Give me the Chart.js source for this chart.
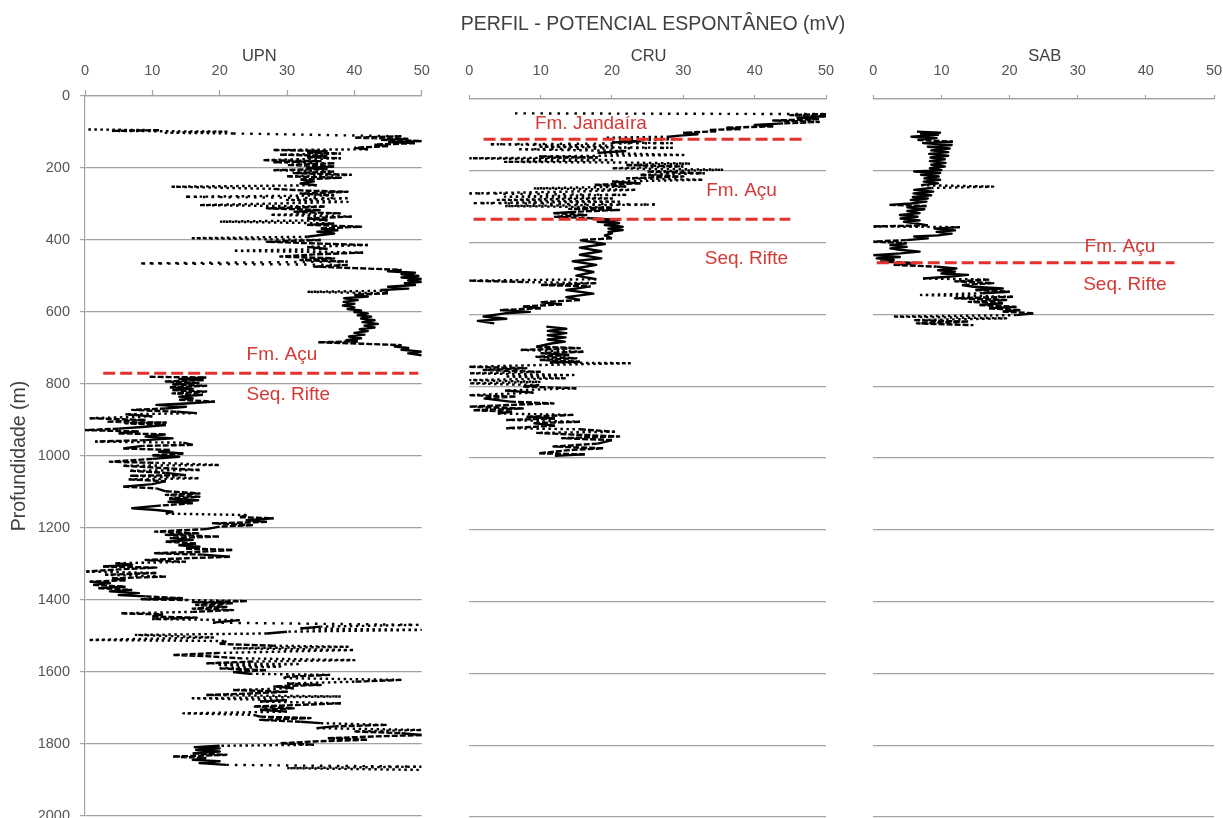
<!DOCTYPE html>
<html><head><meta charset="utf-8">
<script src="https://cdn.jsdelivr.net/npm/chart.js@4.4.1/dist/chart.umd.min.js"></script>
<style>
html,body{margin:0;padding:0;background:#fff;}
#wrap{position:relative;width:1223px;height:818px;overflow:hidden;background:#fff;}
canvas{position:absolute;left:0;top:0;}
</style></head><body>
<div id="wrap">
<canvas id="cUPN" width="1223" height="818"></canvas>
<canvas id="cCRU" width="1223" height="818"></canvas>
<canvas id="cSAB" width="1223" height="818"></canvas>
</div>
<script>
// ---------- DATA (depth m, SP mV) ----------
const mainTitle = 'PERFIL - POTENCIAL ESPONTÂNEO (mV)';
const wellNames = ['UPN', 'CRU', 'SAB'];
const xTicks = [0, 10, 20, 30, 40, 50];
const depthTicks = [0, 200, 400, 600, 800, 1000, 1200, 1400, 1600, 1800, 2000];

const upnLog = [[93,0.5],[95,11],[97,4],[99,21],[102,12],[104,22],[112,47],[116,40],[119,48],[122,44],[125,50],[128,45],[131,49],[135,43],[139,45],[144,40],[148,42],[150,28],[153,36],[157,33],[160,38],[163,29],[166,36],[170,33],[173,38],[178,26.5],[181,35],[184,28],[187,37],[192,30],[196,37],[200,33],[203,36],[206,28],[210,37],[214,31],[219,39.6],[223,30],[227,38],[232,32],[237,34],[243,32],[248,34.4],[252,13],[258,28],[263,33],[266,39],[271,32],[276,37],[280,15],[284,39],[289,30],[294,39],[298,30],[303,17],[307,35.6],[312,27],[317,35],[322,31],[326,38],[330,27.5],[335,39.6],[340,33],[345,36],[349,20],[354,37],[358,33],[363,41],[368,35],[373,37.5],[377,34.5],[382,37],[386,35],[391,33],[395,16],[400,35],[405,27],[410,35],[414,42],[419,33],[425,36],[430,22],[435,41.3],[440,34],[446,29],[451,37],[456,32],[460,39],[465,8],[469,39],[474,34],[478,40],[483,47],[487,45],[491,49],[495,47],[500,49.5],[504,47],[508,50],[512,48],[516,50],[520,47.5],[525,49],[530,45],[535,48],[539,44],[541,45],[544,33],[548,45],[552,40],[557,42],[562,38.5],[567,40.5],[572,38.4],[577,40],[582,38.3],[587,40],[592,39],[596,41],[600,40],[604,42],[609,40.5],[613,42.5],[618,41],[623,43],[628,41.2],[633,43.5],[638,41.5],[643,43],[648,40.8],[653,42],[658,40],[663,41.5],[668,39.2],[673,41],[678,38.8],[682,40.5],[684,34.6],[688,41],[692,47],[696,46],[700,48],[705,47],[710,50],[715,48],[720,50],[null,null],
[780,9.6],[782,18],[786,14],[789,17.6],[793,12],[797,17],[801,13],[805,18],[809,12.6],[813,16],[817,13],[821,18],[826,13],[830,17.5],[835,14],[840,16],[844,14],[849,19.3],[854,15],[858,10.6],[863,15],[868,12],[872,7],[877,13.6],[881,16.6],[884,6],[890,10],[895,0.7],[900,9],[905,3.2],[907,12],[909,6],[914,12],[920,8],[924,5],[928,0],[932,8],[937,5],[940,12],[946,9],[951,13],[956,9],[960,1.5],[963,14.6],[969,16],[972,8.5],[979,5.7],[983,12.6],[988,11],[993,14.6],[998,10],[1002,14],[1008,10],[1016,3.7],[1019,10.6],[1025,20],[1027,5.7],[1034,12],[1039,17],[1041,6.7],[1047,12],[1053,15],[1055,6.7],[1062,17],[1065,6.5],[1070,12],[1078,10],[1085,5.7],[1090,10.6],[1098,12],[1104,17],[1108,12],[1113,17],[1118,12.5],[1123,16.8],[1127,12.4],[1131,16],[1138,11],[1145,7],[1150,10.6],[1155,13],[1160,12],[1164,24],[1170,23],[1173,28],[1178,24],[1183,27],[1187,19],[1192,25],[1196,20],[1203,18],[1210,10.4],[1215,17],[1219,12],[1224,20],[1228,12.6],[1233,16],[1238,12],[1243,16.5],[1248,14],[1252,17],[1257,15],[1261,22],[1266,17],[1270,10.4],[1274,17.5],[1280,21.5],[1284,15],[1289,9],[1294,15],[1298,4.5],[1302,7],[1307,2.7],[1310,10.6],[1315,5],[1321,0.2],[1325,10.6],[1330,3],[1335,12],[1340,4],[1345,6],[1349,0.7],[1353,3.7],[1358,1.2],[1363,6],[1367,2],[1372,7],[1376,3.7],[1381,8],[1386,5],[1390,9],[1395,14.4],[1398,8.4],[1400,15],[1403,24],[1406,16],[1409,22],[1414,16.5],[1419,21],[1424,16],[1428,22],[1433,16],[1437,5.4],[1440,11.6],[1446,10],[1449,16.6],[1453,10],[1456,23],[1463,19],[1469,49.5],[1474,35],[1479,32],[1483,50],[1488,30],[1493,27],[1497,7.4],[1504,19],[1511,0.5],[1514,21],[1522,20],[1527,28],[1530,39],[1534,22],[1539,40],[1543,30],[1547,20],[1553,13],[1556,18],[1562,23],[1567,40],[1571,25],[1576,18],[1578,32],[1581,20],[1585,29],[1590,20],[1595,27],[1600,22],[1605,24.5],[1608,36.4],[1613,30],[1617,29.5],[1622,47],[1627,40],[1632,30],[1636,35],[1640,28],[1645,31],[1650,22],[1655,30],[1660,24],[1664,18],[1668,38],[1673,16],[1678,30],[1682,26],[1687,38],[1692,31],[1696,25],[1701,31],[1705,26],[1710,30],[1715,14.6],[1719,25],[1724,26],[1728,33.5],[1733,26],[1738,32],[1742,35],[1747,44.8],[1751,37],[1756,34.4],[1761,50],[1765,40],[1770,47],[1775,50],[1779,43],[1784,36],[1788,42],[1793,34],[1798,29],[1802,34],[1805,20],[1809,16.3],[1812,20],[1817,16.5],[1821,20],[1826,16],[1830,21],[1835,13],[1839,18],[1844,16],[1848,20],[1853,17],[1858,21],[1863,50],[1867,30],[1872,50]];

const cruLog = [[40,6.4],[42,50],[45,45],[48,50],[52,46],[56,49],[60,42.6],[64,49],[68,44],[72,40],[76,42.6],[80,36],[84,38],[86,33.7],[90,34.6],[94,30],[98,32],[102,29.5],[105,28],[108,19],[112,29.5],[115,21],[118,24],[121,20],[123,28.5],[126,3],[130,20],[133,10],[136,28.5],[140,7],[145,22],[150,18],[156,30],[160,9.8],[163,18],[165,0],[170,20],[175,5],[177,22],[180,31],[184,22],[188,30],[193,20],[197,35.6],[202,25],[207,33],[211,24],[216,30],[221,22],[225,32.8],[230,20],[235,24],[239,17.5],[244,22],[249,9],[253,23.4],[258,14],[263,0],[267,22],[272,5],[277,20],[281,4],[286,21],[290,0.6],[294,26],[298,5],[302,20],[306,14],[309,21],[314,15],[318,11.8],[323,16.4],[328,12],[332,17],[337,21],[342,18],[346,21],[351,19],[356,21.5],[361,19.5],[365,21.5],[370,19.5],[374,20],[380,19],[388,20],[393,15.5],[404,19],[414,15.5],[424,18.5],[434,15.5],[444,18.5],[452,14.5],[462,17.8],[472,14.8],[482,17.4],[492,15],[502,17.8],[506,0],[510,8],[513,17.8],[518,10],[522,17],[532,13.6],[542,17.4],[552,13.6],[560,15.5],[566,10],[572,13],[578,7.5],[583,10],[588,4.3],[593,8.5],[597,5],[606,2],[612,5.2],[618,1.2],[625,3.5],[null,null],
[634,10.8],[640,13.6],[646,11],[652,13.6],[658,11],[664,13.5],[670,11],[676,13.4],[681,11.5],[690,9.4],[694,15.5],[699,7.2],[704,16],[708,10],[713,14],[718,9.4],[722,15],[727,10],[732,15.5],[734,11.3],[736,22.5],[741,10],[746,0],[750,8],[755,2],[760,10],[764,0],[769,14.6],[773,5],[778,13.6],[783,0],[788,10],[792,0],[797,9.8],[801,7.6],[806,15],[812,5],[818,9],[825,0],[829,6.6],[834,2],[843,5.7],[848,11.8],[852,6],[857,0],[862,7.5],[867,0.5],[871,6],[876,4],[880,14.6],[885,8],[890,12],[894,5.2],[899,15.5],[903,9],[910,12],[917,5.2],[920,15.5],[927,20.4],[930,9.4],[936,16],[940,21],[945,13],[950,20],[960,18],[968,11.8],[973,18.8],[978,14],[987,9.7],[990,16.2],[994,12]];

const sabLog = [[91,6.4],[94,9.8],[97,7],[100,9.5],[105,5.6],[109,9.3],[114,6.5],[119,11.7],[123,7.3],[128,11.5],[133,8],[138,11.2],[143,8.5],[148,11],[153,8.2],[158,11],[163,8.4],[168,10.5],[173,8.3],[178,10.6],[183,8.5],[188,10.5],[193,8.3],[198,10],[202,6],[206,9.8],[211,7],[216,9.6],[221,7.5],[225,9.8],[230,7.4],[235,9.5],[240,7],[244,17.6],[248,8.5],[253,6],[258,8.8],[263,5.9],[268,8.5],[273,5.8],[277,8],[281,5.5],[286,7.8],[291,5.5],[295,2.4],[298,7.8],[302,5],[307,7.5],[312,5],[318,6.8],[323,3.9],[328,6.5],[333,4],[338,6.8],[342,4.5],[347,6.5],[352,8],[355,0],[357,12.7],[361,9],[366,12],[370,9.3],[375,11.5],[380,9.5],[383,6],[388,8],[393,4.9],[397,0],[402,4.9],[407,2.5],[412,4.9],[416,2.5],[420,3.9],[425,6.8],[430,4],[435,0],[440,3.9],[444,0.5],[448,3],[453,1],[457,6.4],[462,3],[467,9.3],[472,12.2],[477,9.5],[481,12],[486,10],[490,13.9],[495,11],[500,7.3],[503,17],[508,12],[513,17.6],[518,13],[523,14.7],[528,19],[532,15],[537,20],[541,16],[546,7],[551,20.5],[555,12],[560,19.5],[565,14],[569,19],[574,15.6],[579,21],[583,17],[588,21.6],[592,19],[597,23.5],[602,21],[606,2.9],[611,19.5],[616,6],[620,14],[625,6.4],[630,14.7]];

// formation tops: [depth, from mV, to mV]
const upnTops = [[770, 2.7, 49.5]];
const cruTops = [[112, 2, 47.3], [335, 0.6, 45]];
const sabTops = [[456, 0.5, 44.2]];

// formation labels: [text, mV, depth]
const upnNotes = [['Fm. Açu', 24, 733], ['Seq. Rifte', 24, 844]];
const cruNotes = [['Fm. Jandaíra', 9.2, 84], ['Fm. Açu', 33.2, 270], ['Seq. Rifte', 33.0, 460]];
const sabNotes = [['Fm. Açu', 31, 425], ['Seq. Rifte', 30.8, 533]];

// ---------- STYLE / LAYOUT ----------
const FONT = '"Liberation Sans", Arial, Helvetica, sans-serif';
const GRID = '#a3a3a3';
const RED_LINE = '#e2322c';
const RED_TEXT = '#d33a35';
const TXT = '#404040';
const TICK_TXT = '#555555';

const textPlugin = {
  id: 'panelTexts',
  afterDraw(chart, args, o) {
    const c = chart.ctx, xs = chart.scales.x, ys = chart.scales.y, ca = chart.chartArea;
    c.save();
    c.textBaseline = 'alphabetic';
    if (o.main) {
      c.font = '19.5px ' + FONT; c.fillStyle = TXT; c.textAlign = 'center';
      c.fillText(o.main, 653, 29.5);
    }
    c.font = '16.5px ' + FONT; c.fillStyle = TXT; c.textAlign = 'center';
    c.fillText(o.name, (ca.left + ca.right) / 2 + o.shift, 61);
    c.font = '19px ' + FONT; c.fillStyle = RED_TEXT; c.textAlign = 'left';
    o.notes.forEach(n => c.fillText(n[0], xs.getPixelForValue(n[1]), ys.getPixelForValue(n[2])));
    c.restore();
  }
};

function makePanel(id, name, log, tops, notes, area, showY, main, shift) {
  const datasets = [];
  tops.forEach(t => datasets.push({
    data: [{x: t[1], y: t[0]}, {x: t[2], y: t[0]}],
    borderColor: RED_LINE, borderWidth: 3, borderDash: [12, 5],
    pointRadius: 0, order: 0, clip: false
  }));
  datasets.push({
    data: log.map(p => ({x: p[1], y: p[0]})),
    borderColor: '#000', borderWidth: 2.4, pointRadius: 0, spanGaps: false, order: 1,
    borderJoinStyle: 'round',
    segment: {
      borderDash: s => {
        const dx = Math.abs(s.p1.x - s.p0.x);
        return dx > 150 ? [2.5, 6] : (dx > 60 ? [2.5, 3.5] : (dx > 30 ? [6, 2] : undefined));
      }
    }
  });
  new Chart(document.getElementById(id), {
    type: 'line',
    data: { datasets },
    plugins: [textPlugin],
    options: {
      responsive: false, animation: false, devicePixelRatio: 1,
      events: [],
      layout: { padding: { left: showY ? 0 : area.left, top: 0, right: 1223 - area.right, bottom: 818 - area.bottom } },
      plugins: {
        legend: { display: false }, tooltip: { enabled: false },
        panelTexts: { name, notes, main, shift }
      },
      scales: {
        x: {
          type: 'linear', position: 'top', min: xTicks[0], max: xTicks[xTicks.length - 1],
          afterBuildTicks: s => { s.ticks = xTicks.map(v => ({value: v})); },
          ticks: { font: {family: FONT, size: 14.5}, color: TICK_TXT, padding: area.tickPad, maxRotation: 0, autoSkip: false,
                   callback: v => String(v) },
          grid: { drawOnChartArea: false, drawTicks: true, tickLength: area.tickLen, tickColor: GRID, tickWidth: 1.2 },
          border: { display: true, color: GRID, width: 1.2 },
          afterFit: s => { s.height = area.top; s.paddingLeft = 0; s.paddingRight = 0; }
        },
        y: {
          type: 'linear', reverse: true, min: depthTicks[0], max: depthTicks[depthTicks.length - 1],
          afterBuildTicks: s => { s.ticks = depthTicks.map(v => ({value: v})); },
          ticks: { display: showY, font: {family: FONT, size: 14.5}, color: TICK_TXT, padding: 10, autoSkip: false,
                   callback: v => String(v) },
          grid: { color: GRID, lineWidth: 1.2, drawTicks: showY, tickLength: 5, tickColor: GRID },
          border: { display: showY, color: GRID, width: 1.2 },
          title: { display: showY, text: 'Profundidade (m)', font: {family: FONT, size: 19.5}, color: TXT, padding: {top: 8, bottom: 0} },
          afterFit: s => { s.width = showY ? area.left : 0; s.paddingTop = 0; s.paddingBottom = 0; }
        }
      }
    }
  });
}

makePanel('cUPN', wellNames[0], upnLog, upnTops, upnNotes,
  {left: 85, right: 421.7, top: 96, bottom: 816, tickLen: 6, tickPad: 10}, true, mainTitle, 6);
makePanel('cCRU', wellNames[1], cruLog, cruTops, cruNotes,
  {left: 469.3, right: 826, top: 99, bottom: 817, tickLen: 4, tickPad: 15}, false, null, 1);
makePanel('cSAB', wellNames[2], sabLog, sabTops, sabNotes,
  {left: 873.3, right: 1214, top: 99, bottom: 817, tickLen: 4, tickPad: 15}, false, null, 1);
</script>
</body></html>
